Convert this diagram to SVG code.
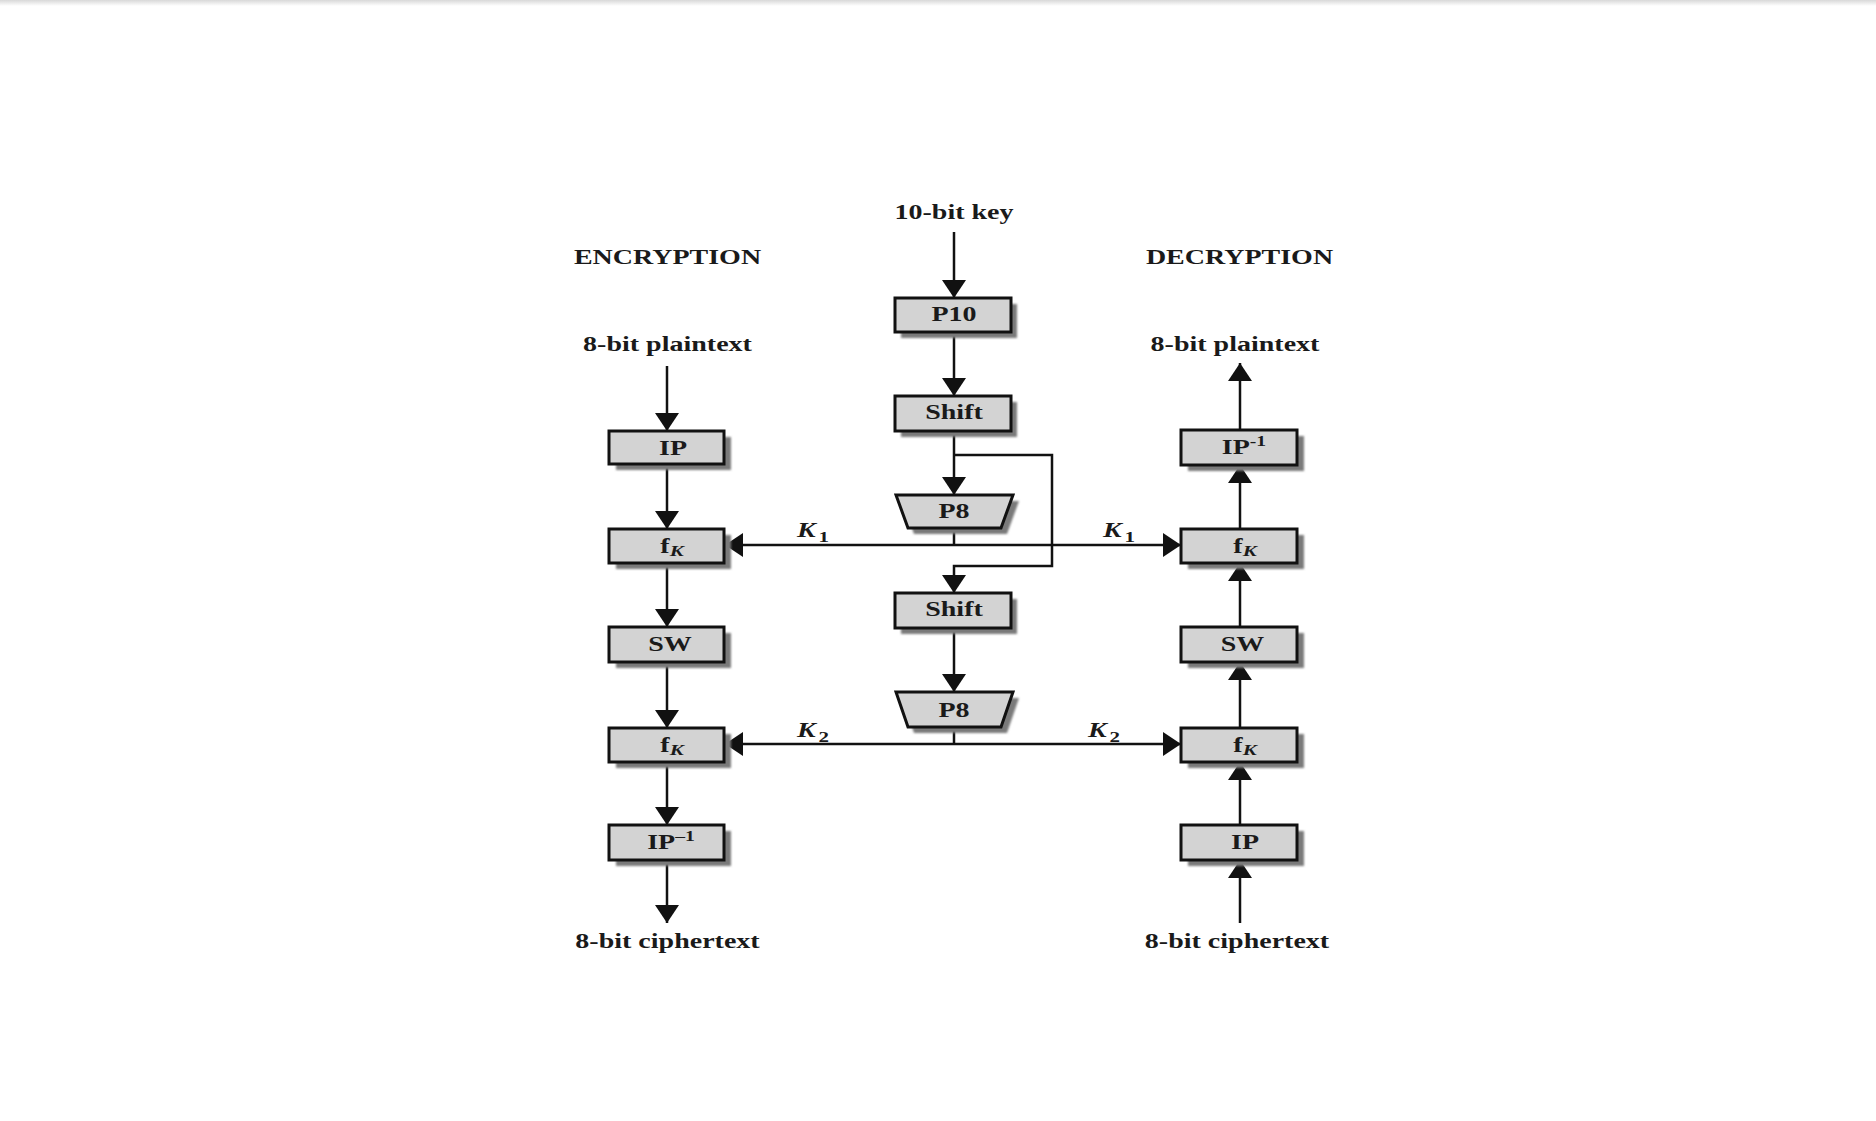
<svg xmlns="http://www.w3.org/2000/svg" width="1876" height="1121" viewBox="0 0 1876 1121">
<style>
.t{font-family:"Liberation Serif","Times New Roman",serif;font-weight:bold;font-size:20px;fill:#1a1a1a}
.box{fill:#d3d3d3;stroke:#111;stroke-width:3}
.sh{fill:#7a7a7a;filter:url(#blur)}
.c{fill:none;stroke:#111;stroke-width:2.5}
.a{marker-end:url(#arr)}
</style>
<defs>
<marker id="arr" markerUnits="userSpaceOnUse" viewBox="0 0 18 24" refX="18" refY="12" markerWidth="18" markerHeight="24" orient="auto"><path d="M0,0 L18,12 L0,24 z" fill="#111"/></marker>
<filter id="blur" x="-10%" y="-30%" width="120%" height="160%"><feGaussianBlur stdDeviation="1.2"/></filter>
<linearGradient id="topg" x1="0" y1="0" x2="0" y2="1"><stop offset="0" stop-color="#d8d8d8"/><stop offset="1" stop-color="#ffffff"/></linearGradient>
</defs>
<rect width="1876" height="1121" fill="#fff"/>
<rect width="1876" height="6" fill="url(#topg)"/>

<g id="labels">
<text class="t" text-anchor="middle" transform="translate(954,219) scale(1.4,1)">10-bit key</text>
<text class="t" text-anchor="middle" transform="translate(667.5,264) scale(1.4,1)">ENCRYPTION</text>
<text class="t" text-anchor="middle" transform="translate(1239.5,264) scale(1.4,1)">DECRYPTION</text>
<text class="t" text-anchor="middle" transform="translate(667.5,351) scale(1.4,1)">8-bit plaintext</text>
<text class="t" text-anchor="middle" transform="translate(1235,351) scale(1.4,1)">8-bit plaintext</text>
<text class="t" text-anchor="middle" transform="translate(667.5,948) scale(1.4,1)">8-bit ciphertext</text>
<text class="t" text-anchor="middle" transform="translate(1237,948) scale(1.4,1)">8-bit ciphertext</text>
</g>

<g id="connectors">
<path class="c a" d="M954,232 V298"/>
<path class="c a" d="M954,332 V396"/>
<path class="c a" d="M954,431 V495"/>
<path class="c a" d="M954,455 H1052 V566 H954 V593"/>
<path class="c" d="M954,528 V545"/>
<path class="c a" d="M954,545 H725"/>
<path class="c a" d="M954,545 H1181"/>
<path class="c a" d="M954,628 V692"/>
<path class="c" d="M954,727 V744"/>
<path class="c a" d="M954,744 H725"/>
<path class="c a" d="M954,744 H1181"/>
<path class="c a" d="M667,366 V431"/>
<path class="c a" d="M667,464 V529"/>
<path class="c a" d="M667,563 V627"/>
<path class="c a" d="M667,662 V728"/>
<path class="c a" d="M667,762 V825"/>
<path class="c a" d="M667,860 V923"/>
<path class="c a" d="M1240,923 V860"/>
<path class="c a" d="M1240,825 V762"/>
<path class="c a" d="M1240,728 V662"/>
<path class="c a" d="M1240,627 V563"/>
<path class="c a" d="M1240,529 V465"/>
<path class="c a" d="M1240,430 V363"/>
<text class="t" transform="translate(797,537) scale(1.4,1)"><tspan font-style="italic">K</tspan><tspan font-size="15" dx="2" dy="5">1</tspan></text>
<text class="t" transform="translate(1103,537) scale(1.4,1)"><tspan font-style="italic">K</tspan><tspan font-size="15" dx="2" dy="5">1</tspan></text>
<text class="t" transform="translate(797,737) scale(1.4,1)"><tspan font-style="italic">K</tspan><tspan font-size="15" dx="2" dy="5">2</tspan></text>
<text class="t" transform="translate(1088,737) scale(1.4,1)"><tspan font-style="italic">K</tspan><tspan font-size="15" dx="2" dy="5">2</tspan></text>
</g>

<g id="p10"><rect class="sh" x="901" y="304" width="116" height="34"/><rect class="box" x="895" y="298" width="116" height="34"/><text class="t" text-anchor="middle" transform="translate(954,321) scale(1.4,1)">P10</text></g>
<g id="shift1"><rect class="sh" x="901" y="402" width="116" height="35"/><rect class="box" x="895" y="396" width="116" height="35"/><text class="t" text-anchor="middle" transform="translate(954,419) scale(1.4,1)">Shift</text></g>
<g id="p8a"><path class="sh" d="M902,501 H1019 L1007,534 H914 Z"/><path class="box" d="M896,495 H1013 L1001,528 H908 Z"/><text class="t" text-anchor="middle" transform="translate(954,518) scale(1.4,1)">P8</text></g>
<g id="shift2"><rect class="sh" x="901" y="599" width="116" height="35"/><rect class="box" x="895" y="593" width="116" height="35"/><text class="t" text-anchor="middle" transform="translate(954,616) scale(1.4,1)">Shift</text></g>
<g id="p8b"><path class="sh" d="M902,698 H1019 L1007,733 H914 Z"/><path class="box" d="M896,692 H1013 L1001,727 H908 Z"/><text class="t" text-anchor="middle" transform="translate(954,717) scale(1.4,1)">P8</text></g>

<g id="enc-ip"><rect class="sh" x="616" y="437" width="115" height="33"/><rect class="box" x="609" y="431" width="115" height="33"/><text class="t" text-anchor="middle" transform="translate(673,455) scale(1.4,1)">IP</text></g>
<g id="enc-fk1"><rect class="sh" x="616" y="535" width="115" height="34"/><rect class="box" x="609" y="529" width="115" height="34"/><text class="t" text-anchor="middle" transform="translate(672,553) scale(1.4,1)">f<tspan font-style="italic" font-size="15" dy="3">K</tspan></text></g>
<g id="enc-sw"><rect class="sh" x="616" y="633" width="115" height="35"/><rect class="box" x="609" y="627" width="115" height="35"/><text class="t" text-anchor="middle" transform="translate(670,651) scale(1.4,1)">SW</text></g>
<g id="enc-fk2"><rect class="sh" x="616" y="734" width="115" height="34"/><rect class="box" x="609" y="728" width="115" height="34"/><text class="t" text-anchor="middle" transform="translate(672,752) scale(1.4,1)">f<tspan font-style="italic" font-size="15" dy="3">K</tspan></text></g>
<g id="enc-ipinv"><rect class="sh" x="616" y="831" width="115" height="35"/><rect class="box" x="609" y="825" width="115" height="35"/><text class="t" text-anchor="middle" transform="translate(671,849) scale(1.4,1)">IP<tspan font-size="14" dy="-8">–1</tspan></text></g>

<g id="dec-ipinv"><rect class="sh" x="1188" y="436" width="116" height="35"/><rect class="box" x="1181" y="430" width="116" height="35"/><text class="t" text-anchor="middle" transform="translate(1244,454) scale(1.4,1)">IP<tspan font-size="14" dy="-8">-1</tspan></text></g>
<g id="dec-fk1"><rect class="sh" x="1188" y="535" width="116" height="34"/><rect class="box" x="1181" y="529" width="116" height="34"/><text class="t" text-anchor="middle" transform="translate(1245,553) scale(1.4,1)">f<tspan font-style="italic" font-size="15" dy="3">K</tspan></text></g>
<g id="dec-sw"><rect class="sh" x="1188" y="633" width="116" height="35"/><rect class="box" x="1181" y="627" width="116" height="35"/><text class="t" text-anchor="middle" transform="translate(1242.5,651) scale(1.4,1)">SW</text></g>
<g id="dec-fk2"><rect class="sh" x="1188" y="734" width="116" height="34"/><rect class="box" x="1181" y="728" width="116" height="34"/><text class="t" text-anchor="middle" transform="translate(1245,752) scale(1.4,1)">f<tspan font-style="italic" font-size="15" dy="3">K</tspan></text></g>
<g id="dec-ip"><rect class="sh" x="1188" y="831" width="116" height="35"/><rect class="box" x="1181" y="825" width="116" height="35"/><text class="t" text-anchor="middle" transform="translate(1245,849) scale(1.4,1)">IP</text></g>
</svg>
